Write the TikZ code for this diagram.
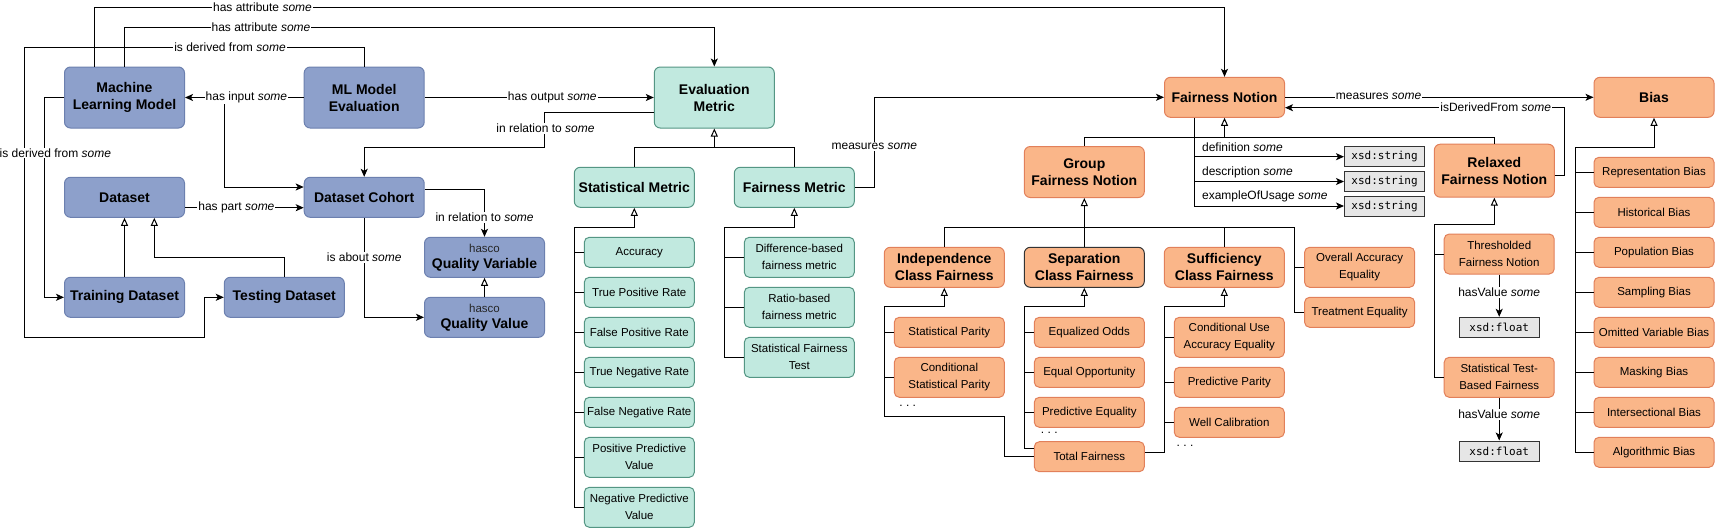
\documentclass[tikz,border=0pt]{standalone}
\usepackage{fontspec}
\setmainfont{Liberation Sans}
\newfontfamily\monof{DejaVu Sans Mono}
\usetikzlibrary{arrows.meta}
\definecolor{bluef}{RGB}{141,160,203}
\definecolor{blued}{RGB}{108,128,175}
\definecolor{tealf}{RGB}{193,233,223}
\definecolor{teald}{RGB}{84,150,132}
\definecolor{orf}{RGB}{250,182,137}
\definecolor{ord}{RGB}{226,128,90}
\definecolor{xsdf}{RGB}{230,230,230}
\newcommand{\hascotxt}{{\fontsize{11.5}{14}\selectfont\mdseries\color{black!85}hasco}}
\begin{document}
\begin{tikzpicture}[x=1pt,y=-1pt,line width=1pt,
 base/.style={rounded corners=6pt, inner sep=0pt, align=center, line width=1pt},
 bigtxt/.style={font=\fontsize{14}{17}\selectfont\bfseries},
 smtxt/.style={font=\fontsize{11.5}{17}\selectfont},
 bl/.style={base, bigtxt, fill=bluef, draw=blued, minimum width=120pt, minimum height=40pt},
 tl/.style={base, bigtxt, fill=tealf, draw=teald, minimum width=120pt, minimum height=40pt},
 tls/.style={base, smtxt, fill=tealf, draw=teald, minimum width=110pt, minimum height=30pt, rounded corners=5pt},
 orb/.style={base, bigtxt, fill=orf, draw=ord, minimum width=120pt, minimum height=40pt},
 ors/.style={base, smtxt, fill=orf, draw=ord, minimum width=110pt, minimum height=30pt, rounded corners=5pt},
 xsd/.style={draw=black!80, fill=xsdf, minimum width=80pt, minimum height=20pt, inner sep=0pt, font=\monof\fontsize{11}{13}\selectfont},
 lbl/.style={font=\fontsize{12}{14}\selectfont, fill=white, inner sep=1pt},
 lbn/.style={font=\fontsize{12}{14}\selectfont, inner sep=0pt, anchor=west},
 dots/.style={font=\fontsize{12}{14}\selectfont, inner sep=0pt},
 arr/.style={-{Stealth[length=8pt,width=7pt,inset=2pt]}},
 inh/.style={-{Triangle[open,length=8pt,width=7pt]}}
]
\fill[white] (0,0) rectangle (1715,528);
\useasboundingbox (0,0) rectangle (1715,528);

% ---------- blue nodes ----------
\node[bl, minimum height=61pt] (mlm) at (124.5,97.5) {Machine\\Learning Model};
\node[bl, minimum height=61pt] (mle) at (364.2,97.5) {ML Model\\Evaluation};
\node[bl] (ds) at (124.5,197.3) {Dataset};
\node[bl] (dc) at (364.2,197.3) {Dataset Cohort};
\node[bl] (trd) at (124.5,297.3) {Training Dataset};
\node[bl] (ted) at (284.3,297.3) {Testing Dataset};
\node[bl] (qv) at (484.5,257.3) {\hascotxt\\[-1pt]Quality Variable};
\node[bl] (qval) at (484.5,317.3) {\hascotxt\\[-1pt]Quality Value};

% ---------- teal nodes ----------
\node[tl, minimum height=61pt] (em) at (714.3,97.5) {Evaluation\\Metric};
\node[tl] (sm) at (634.3,187.3) {Statistical Metric};
\node[tl] (fm) at (794.3,187.3) {Fairness Metric};
\node[tls] (acc) at (639.3,252.3) {Accuracy};
\node[tls] (tpr) at (639.3,292.3) {True Positive Rate};
\node[tls] (fpr) at (639.3,332.3) {False Positive Rate};
\node[tls] (tnr) at (639.3,372.3) {True Negative Rate};
\node[tls] (fnr) at (639.3,412.3) {False Negative Rate};
\node[tls, minimum height=40pt] (ppv) at (639.3,457.3) {Positive Predictive\\Value};
\node[tls, minimum height=40pt] (npv) at (639.3,507.3) {Negative Predictive\\Value};
\node[tls, minimum height=40pt] (dfm) at (799.3,257.3) {Difference-based\\fairness metric};
\node[tls, minimum height=40pt] (rfm) at (799.3,307.3) {Ratio-based\\fairness metric};
\node[tls, minimum height=40pt] (sft) at (799.3,357.3) {Statistical Fairness\\Test};

% ---------- orange nodes ----------
\node[orb] (fn) at (1224.5,97.3) {Fairness Notion};
\node[orb, minimum height=51pt] (gfn) at (1084.3,172) {Group\\Fairness Notion};
\node[orb, minimum height=53pt] (rfn) at (1494.3,170.7) {Relaxed\\Fairness Notion};
\node[orb] (bias) at (1654,97.3) {Bias};
\node[orb] (icf) at (944.3,267.3) {Independence\\Class Fairness};
\node[orb, draw=black!80] (scf) at (1084.3,267.3) {Separation\\Class Fairness};
\node[orb] (sucf) at (1224.3,267.3) {Sufficiency\\Class Fairness};
\node[ors, minimum height=40pt] (oae) at (1359.6,267.3) {Overall Accuracy\\Equality};
\node[ors] (te) at (1359.6,312.3) {Treatment Equality};
\node[ors] (sp) at (949.3,332.3) {Statistical Parity};
\node[ors, minimum height=40pt] (csp) at (949.3,377.3) {Conditional\\Statistical Parity};
\node[ors] (eo) at (1089.3,332.3) {Equalized Odds};
\node[ors] (eop) at (1089.3,372.3) {Equal Opportunity};
\node[ors] (pe) at (1089.3,412.3) {Predictive Equality};
\node[ors] (tf) at (1089.3,456.7) {Total Fairness};
\node[ors, minimum height=40pt] (cuae) at (1229.3,337.3) {Conditional Use\\Accuracy Equality};
\node[ors] (pp) at (1229.3,382.3) {Predictive Parity};
\node[ors] (wc) at (1229.3,422.3) {Well Calibration};
\node[ors, minimum height=40pt] (tfn) at (1499.2,254) {Thresholded\\Fairness Notion};
\node[ors, minimum height=40pt] (stbf) at (1499.2,377.3) {Statistical Test-\\Based Fairness};
\node[ors, minimum width=120pt] (b1) at (1654,172.3) {Representation Bias};
\node[ors, minimum width=120pt] (b2) at (1654,212.3) {Historical Bias};
\node[ors, minimum width=120pt] (b3) at (1654,252.3) {Population Bias};
\node[ors, minimum width=120pt] (b4) at (1654,292.3) {Sampling Bias};
\node[ors, minimum width=120pt] (b5) at (1654,332.3) {Omitted Variable Bias};
\node[ors, minimum width=120pt] (b6) at (1654,372.3) {Masking Bias};
\node[ors, minimum width=120pt] (b7) at (1654,412.3) {Intersectional Bias};
\node[ors, minimum width=120pt] (b8) at (1654,452.3) {Algorithmic Bias};

% ---------- datatype boxes ----------
\node[xsd] (xs1) at (1384.5,156.7) {xsd:string};
\node[xsd] (xs2) at (1384.5,181.5) {xsd:string};
\node[xsd] (xs3) at (1384.5,206) {xsd:string};
\node[xsd] (xf1) at (1499.2,327.3) {xsd:float};
\node[xsd] (xf2) at (1499.2,451) {xsd:float};

% ---------- connectors: left part ----------
\draw[arr] ([xshift=-30.2pt]mlm.north) |- (fn.north |- 0,7.3) -- (fn.north);
\draw[arr] (mlm.north) |- (em.north |- 0,27.7) -- (em.north);
\draw[arr] (mle.north) |- (24.3,47.7) |- (204.6,337.3) |- (ted.west);
\draw[arr] (mlm.west) -| (44.3,200) |- (trd.west);
\draw[arr] (mle.west) -- (mlm.east);
\coordinate (hin) at (224.3,97.5);
\draw[arr] (hin) |- (dc.west |- 0,187);
\draw[arr] (ds.east |- 0,207.7) -- (dc.west |- 0,207.7);
\draw[arr] (mle.east) -- (em.west);
\draw[arr] (em.west |- 0,112.7) -| (544.3,147) -| (dc.north);
\draw[arr] (dc.east |- 0,189.3) -| (qv.north);
\draw[arr] (dc.south) |- (qval.west);
\draw[inh] (qval.north) -- (qv.south);
\draw[inh] (trd.north) -- (ds.south);
\draw[inh] (ted.north) |- (154.3,257.3) -- (ds.south -| 154.3,0);

% ---------- metric trees ----------
\draw[inh] (sm.north) |- (em.south |- 0,147) -- (em.south);
\draw (fm.north) |- (em.south |- 0,147);
\draw[inh] (acc.west) -| (574.3,227.3) -| (sm.south);
\draw (npv.west) -| (574.3,227.3);
\foreach \n in {tpr,fpr,tnr,fnr,ppv} \draw (\n.west) -- (\n.west -| 574.3,0);
\draw[inh] (dfm.west) -| (724.3,227.3) -| (fm.south);
\draw (sft.west) -| (724.3,227.3);
\draw (rfm.west) -- (rfm.west -| 724.3,0);
\draw[arr] (fm.east) -| (874.3,142) |- (fn.west);

% ---------- fairness notion ----------
\draw[inh] (gfn.north) |- (fn.south |- 0,137.3) -- (fn.south);
\draw (rfn.north) |- (fn.south |- 0,137.3);
\draw[arr] (fn.south -| 1194.5,0) |- (xs3.west);
\draw[arr] (xs1.west -| 1194.5,0) -- (xs1.west);
\draw[arr] (xs2.west -| 1194.5,0) -- (xs2.west);
\draw[arr] (fn.east) -- (bias.west);
\draw[arr] (rfn.east |- 0,175.3) -| (1564,107.7) -- (fn.east |- 0,107.7);
\draw[inh] (b1.west) -| (1575,147.3) -| (bias.south);
\draw (b8.west) -| (1575,147.3);
\foreach \n in {b2,b3,b4,b5,b6,b7} \draw (\n.west) -- (\n.west -| 1575,0);
\draw[inh] (tfn.west) -| (1434.5,224) -| (rfn.south);
\draw (stbf.west) -| (1434.5,224);
\draw[arr] (tfn.south) -- (xf1.north);
\draw[arr] (stbf.south) -- (xf2.north);

% ---------- group fairness ----------
\draw[inh] (icf.north) |- (gfn.south |- 0,227.3) -- (gfn.south);
\draw (scf.north) -- (gfn.south |- 0,227.3);
\draw (sucf.north) |- (gfn.south |- 0,227.3);
\draw (te.west) -| (1294.3,227.3) -- (sucf.north |- 0,227.3);
\draw (oae.west) -- (oae.west -| 1294.3,0);
\draw[inh] (sp.west) -| (884.3,306.7) -| (icf.south);
\draw (csp.west) -- (csp.west -| 884.3,0);
\draw (tf.west) -| (1004.3,416.7) -| (884.3,306.7);
\draw[inh] (eo.west) -| (1024.3,306.7) -| (scf.south);
\draw (eop.west) -- (eop.west -| 1024.3,0);
\draw (pe.west) -- (pe.west -| 1024.3,0);
\draw (tf.west |- 0,448.3) -| (1024.3,306.7);
\draw[inh] (cuae.west) -| (1164.3,306.7) -| (sucf.south);
\draw (pp.west) -- (pp.west -| 1164.3,0);
\draw (wc.west) -- (wc.west -| 1164.3,0);
\draw (tf.east |- 0,452.3) -| (1164.3,306.7);

% ---------- labels ----------
\node[lbl] (l1) at (262.5,7.3) {has attribute \textit{some}};
\node[lbl] (l2) at (261,27.7) {has attribute \textit{some}};
\node[lbl] (l3) at (230,47.7) {is derived from \textit{some}};
\node[lbl] (l4) at (55.4,153) {is derived from \textit{some}};
\node[lbl] (l5) at (246.4,97.5) {has input \textit{some}};
\node[lbl] (l6) at (236.4,207.7) {has part \textit{some}};
\node[lbl] (l7) at (552.3,97.5) {has output \textit{some}};
\node[lbl] (l8) at (545.5,128.7) {in relation to \textit{some}};
\node[lbl] (l9) at (484.6,217.3) {in relation to \textit{some}};
\node[lbl] (l10) at (364.2,257.7) {is about \textit{some}};
\node[lbl] (l11) at (874.3,146.7) {measures \textit{some}};
\node[lbl] (l12) at (1378.6,96.7) {measures \textit{some}};
\node[lbl] (l13) at (1495.7,107.7) {isDerivedFrom \textit{some}};
\node[lbl] (l14) at (1499.2,292.3) {hasValue \textit{some}};
\node[lbl] (l15) at (1499.2,414.3) {hasValue \textit{some}};
\node[lbn] (l16) at (1201.6,147.7) {definition \textit{some}};
\node[lbn] (l17) at (1201.6,172.7) {description \textit{some}};
\node[lbn] (l18) at (1201.6,196.7) {exampleOfUsage \textit{some}};
\node[dots] (d1) at (907.7,406) {.\ .\ .};
\node[dots] (d2) at (1049.3,433.3) {.\ .\ .};
\node[dots] (d3) at (1185,446) {.\ .\ .};
\end{tikzpicture}
\end{document}
